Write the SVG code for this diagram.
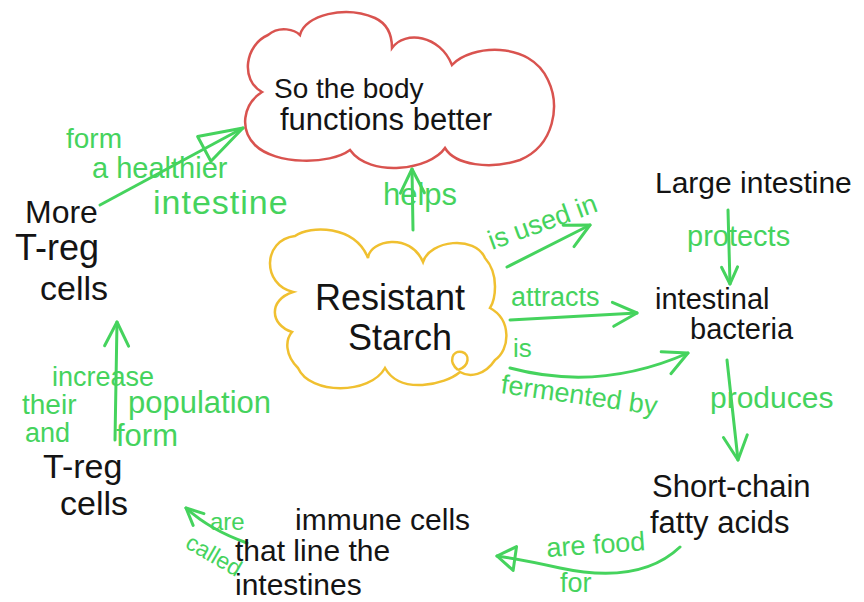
<svg xmlns="http://www.w3.org/2000/svg" width="864" height="602" viewBox="0 0 864 602">
<defs>
<style>
.n{font-family:"Liberation Sans",Arial,sans-serif;fill:#141414}
.g{font-family:"Liberation Sans",Arial,sans-serif;fill:#45d35d}
.c{fill:none;stroke:#45d35d;stroke-width:3;stroke-linecap:round;stroke-linejoin:round}
</style>
<marker id="v" viewBox="0 0 30 30" refX="27" refY="15" markerWidth="30" markerHeight="30" markerUnits="userSpaceOnUse" orient="auto">
<path d="M3 3 L27 15 L3 27" fill="none" stroke="#45d35d" stroke-width="3" stroke-linecap="round" stroke-linejoin="round"/>
</marker>
<marker id="vs" viewBox="0 0 22 22" refX="20" refY="11" markerWidth="22" markerHeight="22" markerUnits="userSpaceOnUse" orient="auto">
<path d="M3 3 L20 11 L3 19" fill="none" stroke="#45d35d" stroke-width="3" stroke-linecap="round" stroke-linejoin="round"/>
</marker>
<marker id="tri" viewBox="0 0 50 34" refX="47" refY="17" markerWidth="50" markerHeight="34" markerUnits="userSpaceOnUse" orient="auto">
<path d="M3 3 L47 17 L3 31 Z" fill="none" stroke="#45d35d" stroke-width="3" stroke-linejoin="round"/>
</marker>
<marker id="tris" viewBox="0 0 24 30" refX="21" refY="15" markerWidth="24" markerHeight="30" markerUnits="userSpaceOnUse" orient="auto">
<path d="M3 3 L21 15 L3 27 Z" fill="none" stroke="#45d35d" stroke-width="3" stroke-linejoin="round"/>
</marker>
</defs>
<rect width="864" height="602" fill="#ffffff"/>

<g id="connectors">
<path id="e-treg-more" class="c" d="M115 440 L117 322" marker-end="url(#v)"/>
<path id="e-more-body" class="c" d="M100 205 L243 128" marker-end="url(#tri)"/>
<path id="e-starch-body" class="c" d="M413 230 L412 169" marker-end="url(#v)"/>
<path id="e-starch-large" class="c" d="M507 267 L590 225" marker-end="url(#v)"/>
<path id="e-starch-bact-attr" class="c" d="M510 320 L637 313" marker-end="url(#v)"/>
<path id="e-starch-bact-ferm" class="c" d="M510 368 Q600 392 688 353" marker-end="url(#v)"/>
<path id="e-large-bact" class="c" d="M728 210 L730 284" marker-end="url(#vs)"/>
<path id="e-bact-scfa" class="c" d="M727 360 L738 460" marker-end="url(#v)"/>
<path id="e-scfa-immune" class="c" d="M680 547 Q640 585 560 568 Q525 560 497 556" marker-end="url(#tris)"/>
<path id="e-immune-treg" class="c" d="M247 543 Q210 530 186 508" marker-end="url(#vs)"/>
</g>

<g id="node-body">
<path d="M262 92 C240 80 245 45 268 35 C280 25 295 30 300 35 C305 15 345 5 375 18 C390 25 392 40 392 48 C405 30 440 35 452 65 C470 45 530 40 548 80 C560 105 555 145 520 160 C490 170 455 165 445 148 C430 170 370 178 350 150 C330 165 275 165 255 145 C240 130 242 105 262 92 Z" fill="none" stroke="#d9534f" stroke-width="2.5"/>
<text class="n" x="274" y="98" font-size="28">So the body</text>
<text class="n" x="280" y="130" font-size="31">functions better</text>
</g>

<g id="node-starch">
<path d="M293 292 C262 285 262 240 295 236 C310 225 355 225 368 258 C370 240 410 232 423 262 C430 240 475 235 485 258 C500 275 495 300 490 308 C512 320 510 350 495 360 C485 375 470 378 460 372 C445 385 400 395 385 368 C370 395 310 395 298 368 C285 355 285 340 292 332 C270 325 268 300 293 292 Z" fill="none" stroke="#f0c030" stroke-width="2.5"/>
<path d="M458 370 C448 362 452 350 462 352 C470 354 470 366 458 370" fill="none" stroke="#f0c030" stroke-width="2.5"/>
<text class="n" x="390" y="310" font-size="36" text-anchor="middle">Resistant</text>
<text class="n" x="400" y="350" font-size="36" text-anchor="middle">Starch</text>
</g>

<g id="node-large">
<text class="n" x="655" y="193" font-size="30">Large intestine</text>
</g>

<g id="node-bacteria">
<text class="n" x="655" y="309" font-size="29">intestinal</text>
<text class="n" x="690" y="339" font-size="29">bacteria</text>
</g>

<g id="node-scfa">
<text class="n" x="652" y="497" font-size="31">Short-chain</text>
<text class="n" x="650" y="533" font-size="31">fatty acids</text>
</g>

<g id="node-immune">
<text class="n" x="295" y="530" font-size="30">immune cells</text>
<text class="n" x="235" y="561" font-size="30">that line the</text>
<text class="n" x="235" y="595" font-size="30">intestines</text>
</g>

<g id="node-treg">
<text class="n" x="43" y="478" font-size="34">T-reg</text>
<text class="n" x="60" y="515" font-size="34">cells</text>
</g>

<g id="node-more">
<text class="n" x="25" y="223" font-size="32">More</text>
<text class="n" x="15" y="260" font-size="36">T-reg</text>
<text class="n" x="40" y="300" font-size="34">cells</text>
</g>

<g id="labels">
<text class="g" x="66" y="148" font-size="28">form</text>
<text class="g" x="92" y="178" font-size="29">a healthier</text>
<text class="g" x="153" y="214" font-size="34" letter-spacing="1">intestine</text>
<text class="g" x="383" y="205" font-size="31">helps</text>
<text class="g" font-size="27" transform="translate(492 250) rotate(-20)">is used in</text>
<text class="g" x="511" y="306" font-size="27">attracts</text>
<text class="g" x="513" y="357" font-size="26">is</text>
<text class="g" font-size="27" transform="translate(500 393) rotate(8)">fermented by</text>
<text class="g" x="687" y="246" font-size="29">protects</text>
<text class="g" x="710" y="408" font-size="30">produces</text>
<text class="g" font-size="27" transform="translate(547 557) rotate(-4)">are food</text>
<text class="g" x="560" y="592" font-size="27">for</text>
<text class="g" x="210" y="530" font-size="24">are</text>
<text class="g" font-size="23" transform="translate(184 547) rotate(30)">called</text>
<text class="g" x="52" y="386" font-size="27">increase</text>
<text class="g" x="22" y="414" font-size="28">their</text>
<text class="g" x="128" y="413" font-size="31">population</text>
<text class="g" x="25" y="442" font-size="27">and</text>
<text class="g" x="116" y="446" font-size="31">form</text>
</g>
</svg>
